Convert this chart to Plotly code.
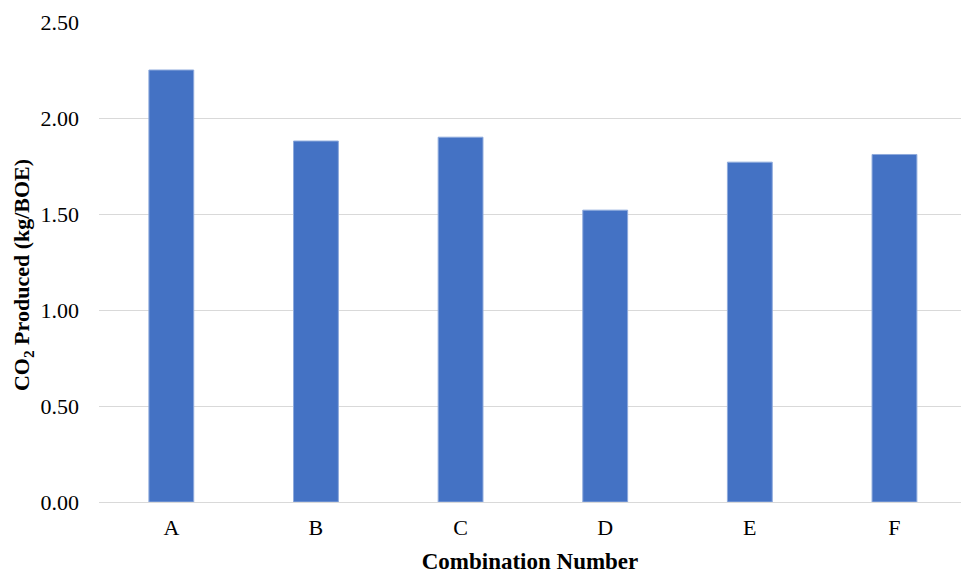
import plotly.graph_objects as go

categories = ["A", "B", "C", "D", "E", "F"]
co2_values = [2.25, 1.88, 1.90, 1.52, 1.77, 1.81]
y_ticks = [0, 0.5, 1.0, 1.5, 2.0, 2.5]
y_tick_labels = ["0.00", "0.50", "1.00", "1.50", "2.00", "2.50"]

font_family = "Liberation Serif, Times New Roman, serif"

fig = go.Figure(
    go.Bar(
        x=list(range(len(categories))),
        y=co2_values,
        width=0.31,
        marker=dict(color="#4472C4", line=dict(color="#8EAADC", width=1)),
    )
)

fig.update_layout(
    width=961,
    height=575,
    margin=dict(l=99, r=0, t=22, b=73),
    paper_bgcolor="white",
    plot_bgcolor="white",
    showlegend=False,
    font=dict(family=font_family, color="black"),
    xaxis=dict(
        tickmode="array",
        tickvals=list(range(len(categories))),
        ticktext=categories,
        range=[-0.5, 5.46],
        showgrid=False,
        showline=False,
        zeroline=False,
        ticks="",
        ticklabelstandoff=10,
        tickfont=dict(size=22, family=font_family, color="black"),
        title=dict(
            text="<b>Combination Number</b>",
            font=dict(size=23, family=font_family, color="black"),
            standoff=13,
        ),
    ),
    yaxis=dict(
        range=[0, 2.5],
        tickmode="array",
        tickvals=y_ticks,
        ticktext=y_tick_labels,
        showgrid=True,
        gridcolor="#D9D9D9",
        gridwidth=1,
        zeroline=True,
        zerolinecolor="#D9D9D9",
        zerolinewidth=1,
        showline=False,
        ticks="",
        ticklabelstandoff=19,
        tickfont=dict(size=22, family=font_family, color="black"),
    ),
    annotations=[
        dict(
            text="<b>CO<sub>2</sub> Produced (kg/BOE)</b>",
            xref="paper",
            yref="paper",
            x=-0.088,
            y=0.473,
            xanchor="center",
            yanchor="middle",
            textangle=-90,
            showarrow=False,
            font=dict(size=22, family=font_family, color="black"),
        )
    ],
)

fig.write_html("out.html")
